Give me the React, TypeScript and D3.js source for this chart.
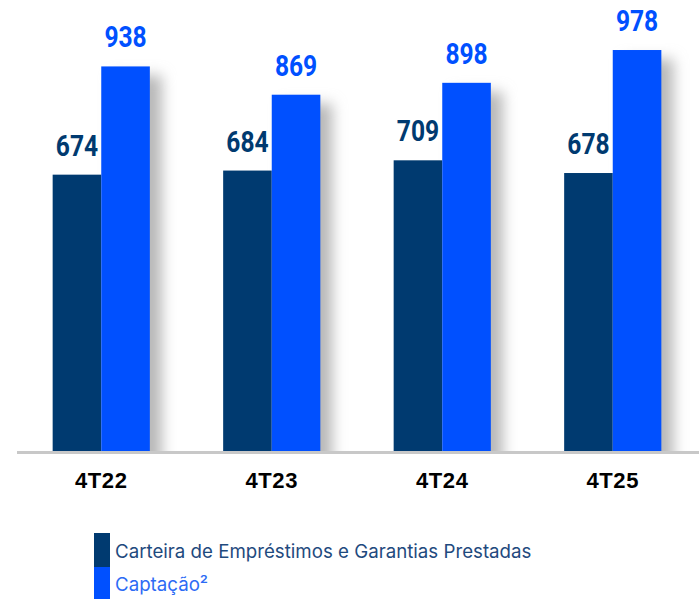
import React from "react";
import * as d3 from "d3";

const categories = ["4T22", "4T23", "4T24", "4T25"];
const carteira = [674, 684, 709, 678];
const captacao = [938, 869, 898, 978];
const seriesNames = ["Carteira de Empréstimos e Garantias Prestadas", "Captação²"];
const colors = ["#003A70", "#0050FF"];

const W = 699;
const H = 599;

export default function App() {
  const baseline = 451;
  const x = d3.scaleBand().domain(categories).range([16, 698]).paddingInner(0.43).paddingOuter(0.215);
  const y = d3.scaleLinear().domain([0, 1100]).range([baseline, 0]);
  const bw = x.bandwidth() / 2;
  const series = [carteira, captacao];

  return (
    <div style={{ position: "absolute", left: 0, top: 0, width: W, height: H, background: "#fff" }}>
      <svg width={W} height={H} style={{ display: "block" }}>
        <defs>
          <filter id="blur" x="-50%" y="-20%" width="200%" height="140%">
            <feGaussianBlur stdDeviation="7" />
          </filter>
          <clipPath id="clipBase">
            <rect x={0} y={0} width={W} height={baseline} />
          </clipPath>
        </defs>
        <g clipPath="url(#clipBase)">
          {categories.map((c, i) => {
            const x0 = (x(c) as number) + bw;
            const top = y(captacao[i]);
            return (
              <rect key={"s" + c} x={x0 + 12} y={top + 9} width={bw} height={baseline - top + 20}
                fill="#b8b8b8" filter="url(#blur)" />
            );
          })}
        </g>
        {series.map((vals, si) =>
          categories.map((c, i) => {
            const x0 = (x(c) as number) + si * bw;
            const top = y(vals[i]);
            return (
              <g key={si + c}>
                <rect x={x0} y={top} width={bw} height={baseline - top} fill={colors[si]} />
                <text
                  transform={`translate(${x0 + bw / 2},${top - 19}) scale(0.82,1)`}
                  textAnchor="middle"
                  fontFamily="Roboto, 'DejaVu Sans', sans-serif"
                  fontWeight={700}
                  fontSize={30}
                  fill={colors[si]}
                >
                  {vals[i]}
                </text>
              </g>
            );
          })
        )}
        <rect x={17} y={baseline} width={W - 17} height={3} fill="#c8c8c8" />
        {categories.map((c) => (
          <text key={"l" + c} x={(x(c) as number) + bw} y={488} textAnchor="middle"
            fontFamily="'Liberation Sans', Arial, sans-serif" fontWeight={700} fontSize={22}
            letterSpacing={0.6} fill="#000">
            {c}
          </text>
        ))}
        {seriesNames.map((n, i) => (
          <g key={n}>
            <rect x={94} y={533 + i * 34} width={16} height={34} fill={colors[i]} />
            <text x={115} y={558 + i * 33} fontFamily="Inter, Roboto, sans-serif" fontWeight={400}
              fontSize={18.7} fill={i === 0 ? "#1F4A7E" : "#2D6BF5"}>
              {n}
            </text>
          </g>
        ))}
      </svg>
    </div>
  );
}
